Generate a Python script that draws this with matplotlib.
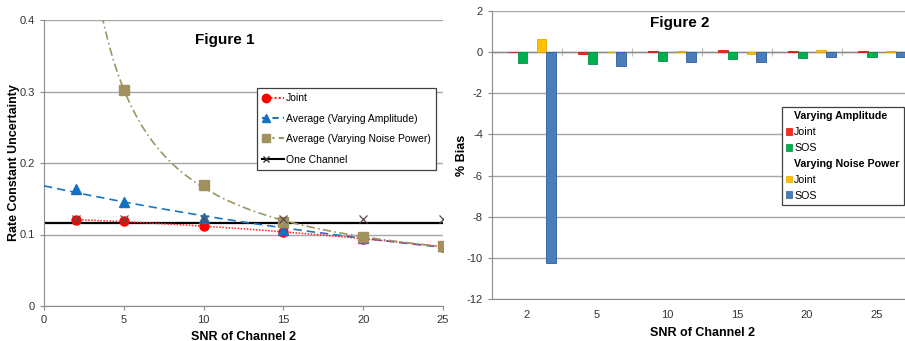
import numpy as np
import matplotlib
matplotlib.use('Agg')
import matplotlib.pyplot as plt
from matplotlib.lines import Line2D
from matplotlib.patches import Patch
from matplotlib.legend_handler import HandlerLine2D

plt.rcParams['font.family'] = ['Liberation Sans', 'DejaVu Sans']
plt.rcParams['axes.unicode_minus'] = False

# ---- Figure 1 data: rate constant uncertainty vs SNR ----
snr = np.array([2, 5, 10, 15, 20, 25])
joint = np.array([0.120, 0.119, 0.112, 0.103, 0.094, 0.083])
avg_amp = np.array([0.163, 0.146, 0.123, 0.106, 0.095, 0.084])
snr_noise = np.array([5, 10, 15, 20, 25])
avg_noise = np.array([0.302, 0.169, 0.117, 0.096, 0.084])
one_chan = np.array([0.121, 0.121, 0.121, 0.121, 0.121, 0.121])
one_chan_level = 0.116

# ---- Figure 2 data: % bias per SNR category ----
cats = ['2', '5', '10', '15', '20', '25']
amp_joint = [0.0, -0.07, 0.05, 0.10, 0.05, 0.05]
amp_sos = [-0.53, -0.56, -0.42, -0.32, -0.29, -0.25]
noise_joint = [0.62, 0.0, 0.04, -0.07, 0.10, 0.05]
noise_sos = [-10.27, -0.65, -0.46, -0.47, -0.25, -0.25]

grid_c = '#a6a6a6'
spine_c = '#8c8c8c'


class MarkerFirst(HandlerLine2D):
    # excel style legend key: marker on the left, line after it
    def create_artists(self, legend, orig_handle, xdescent, ydescent,
                       width, height, fontsize, trans):
        y = height / 2 - ydescent
        x0 = -xdescent
        line = Line2D([x0, x0 + width], [y, y])
        self.update_prop(line, orig_handle, legend)
        line.set_marker('None')
        mark = Line2D([x0 + 3], [y])
        self.update_prop(mark, orig_handle, legend)
        mark.set_linestyle('None')
        line.set_transform(trans)
        mark.set_transform(trans)
        return [line, mark]


fig = plt.figure(figsize=(9.05, 3.41), dpi=100)

# ================= Figure 1 =================
ax = fig.add_axes([44/905, 35/341, 399/905, 286/341])

# trend lines, fitted like excel does
xx = np.linspace(0, 25, 200)
b, a = np.polyfit(snr, np.log(avg_amp), 1)
ax.plot(xx, np.exp(a) * np.exp(b * xx), color='#1a75c7', lw=1.2,
        ls=(0, (5, 3)), zorder=3)
xj = np.linspace(2, 25, 200)
pj = np.polyfit(snr, joint, 2)
ax.plot(xj, np.polyval(pj, xj), color='#ff2020', lw=1.1, ls=(0, (1, 1)), zorder=3)
xn = np.linspace(2, 25, 300)
k, c = np.polyfit(1 / snr_noise, avg_noise, 1)
ax.plot(xn, k / xn + c, color='#9e9563', lw=1.2, ls=(0, (5, 2, 1, 2)), zorder=3)
ax.plot([0, 25], [one_chan_level, one_chan_level], color='black', lw=1.6, zorder=2)

ax.plot(snr, joint, 'o', color='#ff0000', ms=6.5, zorder=4)
ax.plot(snr, avg_amp, '^', color='#1470c0', ms=6.5, zorder=5)
ax.plot(snr_noise, avg_noise, 's', color='#a0915f', ms=6.5, zorder=6)
ax.plot(snr, one_chan, 'x', color='#5c4a4a', ms=6, mew=0.9, zorder=7)

ax.set_xlim(0, 25)
ax.set_ylim(0, 0.4)
ax.set_xticks([0, 5, 10, 15, 20, 25])
ax.set_yticks([0, 0.1, 0.2, 0.3, 0.4])
ax.set_yticklabels(['0', '0.1', '0.2', '0.3', '0.4'])
ax.yaxis.grid(True, color=grid_c, lw=1)
ax.set_axisbelow(True)
for s in ['top', 'right']:
    ax.spines[s].set_visible(False)
for s in ['left', 'bottom']:
    ax.spines[s].set_color(spine_c)
ax.tick_params(colors=spine_c, labelcolor='#333333', labelsize=8, length=3)
ax.set_xlabel('SNR of Channel 2', fontsize=9, fontweight='bold', labelpad=4)
ax.set_ylabel('Rate Constant Uncertainty', fontsize=9, fontweight='bold', labelpad=0)
ax.text(0.454, 0.93, 'Figure 1', transform=ax.transAxes, ha='center', va='center',
        fontsize=11, fontweight='bold')

h1 = [Line2D([], [], color='#ff2020', ls=(0, (1, 1)), marker='o', ms=6, mfc='#ff0000', mec='#ff0000'),
      Line2D([], [], color='#1a75c7', ls=(0, (3, 2)), marker='^', ms=6, mfc='#1470c0', mec='#1470c0'),
      Line2D([], [], color='#9e9563', ls=(0, (3, 2, 1, 2)), marker='s', ms=5.5, mfc='#a0915f', mec='#a0915f'),
      Line2D([], [], color='black', ls='-', marker='x', ms=5, mec='#333333')]
leg = ax.legend(h1, ['Joint', 'Average (Varying Amplitude)',
                     'Average (Varying Noise Power)', 'One Channel'],
                loc='upper left', bbox_to_anchor=(0.534, 0.762), fontsize=7.5,
                handlelength=2.1, handletextpad=0.2, labelspacing=1.0,
                borderpad=0.5, borderaxespad=0, numpoints=1, fancybox=False,
                framealpha=1, handler_map={Line2D: MarkerFirst()})
leg.get_frame().set_edgecolor('#404040')
leg.get_frame().set_linewidth(0.9)

# ================= Figure 2 =================
ax2 = fig.add_axes([492/905, 42/341, 420/905, 288/341])
series = [None, amp_joint, amp_sos, None, noise_joint, noise_sos]
colors = [None, '#ff2a1a', '#00b050', None, '#ffc000', '#4a7ebb']
edges = [None, '#d01a10', '#009040', None, '#e0a800', '#2f5f96']
w = 57 / 6 / 70
x = np.arange(len(cats))
for i, (vals, col, ec) in enumerate(zip(series, colors, edges)):
    if vals is None:
        continue
    ax2.bar(x + (i - 2.5) * w, vals, width=w, color=col, edgecolor=ec, lw=0.6, zorder=3)

ax2.set_xlim(-0.5, len(cats) - 0.5)
ax2.set_ylim(-12, 2)
ax2.set_yticks(np.arange(-12, 3, 2))
ax2.set_xticks(x)
ax2.set_xticklabels(cats)
ax2.yaxis.grid(True, color=grid_c, lw=1)
ax2.set_axisbelow(True)
for s in ['top', 'right']:
    ax2.spines[s].set_visible(False)
for s in ['left', 'bottom']:
    ax2.spines[s].set_color(spine_c)
ax2.tick_params(axis='y', colors=spine_c, labelcolor='#333333', labelsize=8, length=3)
ax2.tick_params(axis='x', length=0, labelcolor='#333333', labelsize=8, pad=8)

# category axis crosses at zero
ax2.axhline(0, color=spine_c, lw=1, zorder=2)
sec = ax2.secondary_xaxis(12 / 14)
sec.set_xticks(np.arange(len(cats) + 1) - 0.5)
sec.tick_params(direction='inout', length=6, colors='#bbbbbb', labelbottom=False, labeltop=False)
sec.spines['bottom'].set_visible(False)
sec.spines['top'].set_visible(False)

ax2.set_xlabel('SNR of Channel 2', fontsize=9, fontweight='bold', labelpad=5)
ax2.set_ylabel('% Bias', fontsize=9, fontweight='bold', labelpad=-1)
ax2.text(0.448, 0.958, 'Figure 2', transform=ax2.transAxes, ha='center', va='center',
         fontsize=11, fontweight='bold')

h2 = [Patch(visible=False), Patch(fc='#ff2a1a', ec='#d01a10', lw=0.5),
      Patch(fc='#00b050', ec='#009040', lw=0.5), Patch(visible=False),
      Patch(fc='#ffc000', ec='#e0a800', lw=0.5), Patch(fc='#4a7ebb', ec='#2f5f96', lw=0.5)]
leg2 = ax2.legend(h2, ['Varying Amplitude', 'Joint', 'SOS', 'Varying Noise Power', 'Joint', 'SOS'],
                  loc='upper left', bbox_to_anchor=(0.69, 0.667), fontsize=7.7,
                  handlelength=0.6, handleheight=0.6, handletextpad=0.15,
                  labelspacing=0.55, borderpad=0.4, borderaxespad=0,
                  fancybox=False, framealpha=1)
leg2.get_frame().set_edgecolor('#404040')
leg2.get_frame().set_linewidth(0.9)
for i in (0, 3):
    leg2.get_texts()[i].set_fontweight('bold')

fig.savefig('out.png', dpi=100)
